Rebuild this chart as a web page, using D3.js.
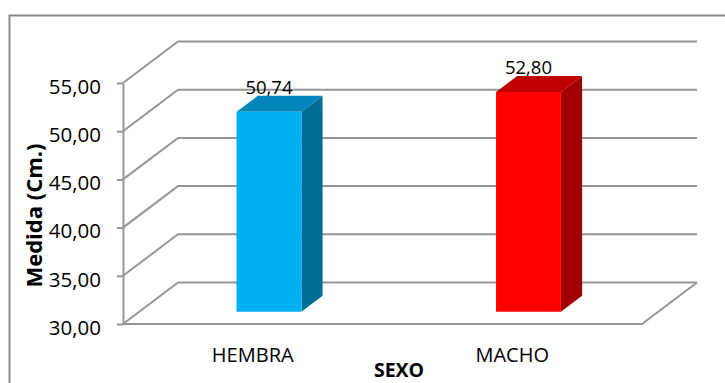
<!DOCTYPE html>
<html><head><meta charset="utf-8">
<script src="https://cdn.jsdelivr.net/npm/d3@7"></script>
<style>
html,body{margin:0;padding:0;background:#fff;}
svg{display:block;}
text{font-family:"Open Sans",sans-serif;fill:#000;}
</style></head>
<body>
<script>
const categories = ["HEMBRA", "MACHO"];
const values = [50.74, 52.80];
const valueLabels = ["50,74", "52,80"];
const tickValues = [30, 35, 40, 45, 50, 55];
const tickLabels = ["30,00", "35,00", "40,00", "45,00", "50,00", "55,00"];
const frontColors = ["#00B0F0", "#FF0000"];
const topColors = ["#0286BC", "#C00000"];
const sideColors = ["#016E98", "#A00000"];

const W = 725, H = 383;
const svg = d3.select("body").append("svg").attr("width", W).attr("height", H);

// outer chart border
svg.append("path").attr("d", `M9.5,${H} L9.5,15.5 L${W},15.5`)
  .attr("fill", "none").attr("stroke", "#8a8a8a").attr("stroke-width", 2);

const x = d3.scaleBand().domain(categories).range([123, 642]);
const y = d3.scaleLinear().domain([30, 55]).range([324, 83]);
const DX = 55, DY = -41.5;
const f0 = 0.295, f1 = 0.68;
const gridColor = "#969696";

const g = svg.append("g");
// gridlines on side and back walls
g.selectAll("path.grid").data(tickValues).join("path")
  .attr("class", "grid")
  .attr("d", t => `M123,${y(t)} L${123 + DX},${y(t) + DY} L${642 + DX},${y(t) + DY}`)
  .attr("fill", "none").attr("stroke", gridColor).attr("stroke-width", 2);
// floor
g.append("path")
  .attr("d", `M123,${y(30)} L642,${y(30)} L${642 + DX},${y(30) + DY}`)
  .attr("fill", "none").attr("stroke", gridColor).attr("stroke-width", 2);

// axis
const fmt = v => tickLabels[tickValues.indexOf(v)];
const ax = svg.append("g").attr("transform", "translate(123,0)")
  .call(d3.axisLeft(y).tickValues(tickValues).tickFormat(fmt).tickSize(6).tickSizeOuter(0).tickPadding(16));
ax.selectAll("path,line").attr("stroke", gridColor).attr("stroke-width", 2);
ax.selectAll("text").attr("font-family", "'Open Sans',sans-serif").attr("font-size", 20.5)
  .attr("dy", "0.5em").attr("fill", "#000");

// bars
const bw = x.bandwidth() * 0.25;
const bars = svg.append("g");
categories.forEach((c, i) => {
  const xc = x(c) + x.bandwidth() / 2;
  const xl = xc - bw / 2, xr = xc + bw / 2;
  const yt = y(values[i]), yb = y(30);
  const P = (px, py, f) => [px + f * DX, py + f * DY];
  const poly = pts => "M" + pts.map(p => p.join(",")).join("L") + "Z";
  // side
  bars.append("path").attr("d", poly([P(xr, yt, f0), P(xr, yt, f1), P(xr, yb, f1), P(xr, yb, f0)]))
    .attr("fill", sideColors[i]);
  // top
  bars.append("path").attr("d", poly([P(xl, yt, f0), P(xr, yt, f0), P(xr, yt, f1), P(xl, yt, f1)]))
    .attr("fill", topColors[i]);
  // front
  bars.append("path").attr("d", poly([P(xl, yt, f0), P(xr, yt, f0), P(xr, yb, f0), P(xl, yb, f0)]))
    .attr("fill", frontColors[i]);
  // value label
  const [lx, ly] = P(xc, yt, f0);
  bars.append("text").attr("x", lx).attr("y", ly - 18).attr("text-anchor", "middle")
    .attr("font-size", 18.5).text(valueLabels[i]);
  // category label
  svg.append("text").attr("x", xc).attr("y", 362).attr("text-anchor", "middle")
    .attr("font-size", 20).text(c);
});

// axis titles
svg.append("text").attr("x", 399).attr("y", 377).attr("text-anchor", "middle")
  .attr("font-size", 19.5).attr("font-weight", "bold").text("SEXO");
svg.append("text").attr("transform", "translate(42,215.5) rotate(-90)").attr("text-anchor", "middle")
  .attr("font-size", 22).attr("font-weight", "bold").text("Medida (Cm.)");
</script>
</body></html>
